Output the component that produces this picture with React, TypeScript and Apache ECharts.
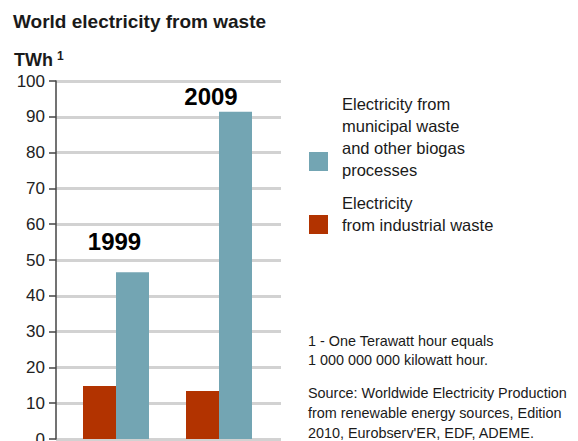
import React, { useEffect, useRef } from "react";
import * as echarts from "echarts";

const categories = ["1999", "2009"];
const industrialWaste = [14.8, 13.4];
const municipalWaste = [46.6, 91.4];
const yMin = 0;
const yMax = 100;
const yInterval = 10;

const titleText = "World electricity from waste";
const unitText = "TWh";
const legendMunicipal = "Electricity from\nmunicipal waste\nand other biogas\nprocesses";
const legendIndustrial = "Electricity\nfrom industrial waste";
const footnote1 = "1 - One Terawatt hour equals\n1 000 000 000 kilowatt hour.";
const footnote2 =
  "Source: Worldwide Electricity Production\nfrom renewable energy sources, Edition\n2010, Eurobserv'ER, EDF, ADEME.";

const RED = "#b23300";
const BLUE = "#73a5b3";
const FONT = "'Liberation Sans', Arial, Helvetica, sans-serif";
const TXT = "#1a1a1a";

export default function App() {
  const ref = useRef<HTMLDivElement>(null);
  useEffect(() => {
    if (!ref.current) return;
    const chart = echarts.init(ref.current, undefined, { renderer: "svg" });
    chart.setOption({
      animation: false,
      textStyle: { fontFamily: FONT },
      title: {
        text: titleText,
        left: 13,
        top: 12,
        padding: 0,
        textStyle: { fontSize: 19, fontWeight: "bold", color: TXT, fontFamily: FONT },
      },
      grid: [
        { left: 56, top: 81, width: 225, height: 358, containLabel: false, outerBoundsMode: "none" },
        { left: 64.5, top: 81, width: 206, height: 358, containLabel: false, outerBoundsMode: "none" },
      ],
      xAxis: [
        { gridIndex: 0, type: "category", data: categories, show: false },
        { gridIndex: 1, type: "category", data: categories, show: false },
      ],
      yAxis: [
        {
          gridIndex: 0,
          type: "value",
          min: yMin,
          max: yMax,
          interval: yInterval,
          axisLine: { show: true, lineStyle: { color: "#444", width: 1.5 } },
          axisTick: { show: true, length: 7, lineStyle: { color: "#444", width: 1.5 } },
          axisLabel: { margin: 11, fontSize: 17, color: "#222", fontFamily: FONT },
          splitLine: { show: true, lineStyle: { color: "#d2d2d2", width: 3 } },
        },
        { gridIndex: 1, type: "value", min: yMin, max: yMax, interval: yInterval, show: false },
      ],
      series: [
        {
          type: "bar",
          name: "Electricity from industrial waste",
          xAxisIndex: 1,
          yAxisIndex: 1,
          data: industrialWaste,
          barWidth: 33,
          barGap: "0%",
          itemStyle: { color: RED },
        },
        {
          type: "bar",
          name: "Electricity from municipal waste and other biogas processes",
          xAxisIndex: 1,
          yAxisIndex: 1,
          data: municipalWaste,
          barWidth: 33,
          barGap: "0%",
          itemStyle: { color: BLUE },
        },
      ],
      graphic: [
        {
          type: "text",
          left: 14,
          top: 51,
          style: { text: unitText, fontSize: 18, fontWeight: "bold", fill: TXT, fontFamily: FONT },
        },
        {
          type: "text",
          left: 57,
          top: 50,
          style: { text: "1", fontSize: 12, fontWeight: "bold", fill: TXT, fontFamily: FONT },
        },
        {
          type: "text",
          x: 114.5,
          y: 241,
          style: {
            text: categories[0],
            fontSize: 24,
            fontWeight: "bold",
            fill: "#000",
            fontFamily: FONT,
            align: "center",
            verticalAlign: "middle",
          },
        },
        {
          type: "text",
          x: 211,
          y: 96,
          style: {
            text: categories[1],
            fontSize: 24,
            fontWeight: "bold",
            fill: "#000",
            fontFamily: FONT,
            align: "center",
            verticalAlign: "middle",
          },
        },
        { type: "rect", shape: { x: 309, y: 152, width: 19, height: 19 }, style: { fill: BLUE } },
        { type: "rect", shape: { x: 309, y: 215, width: 19, height: 19 }, style: { fill: RED } },
        {
          type: "text",
          x: 342,
          y: 93,
          style: { text: legendMunicipal, fontSize: 16.5, lineHeight: 22, fill: TXT, fontFamily: FONT, verticalAlign: "top" },
        },
        {
          type: "text",
          x: 342,
          y: 192,
          style: { text: legendIndustrial, fontSize: 16.5, lineHeight: 22, fill: TXT, fontFamily: FONT, verticalAlign: "top" },
        },
        {
          type: "text",
          x: 308,
          y: 331,
          style: { text: footnote1, fontSize: 14.4, lineHeight: 19.5, fill: TXT, fontFamily: FONT, verticalAlign: "top" },
        },
        {
          type: "text",
          x: 308,
          y: 383,
          style: { text: footnote2, fontSize: 14.4, lineHeight: 20, fill: TXT, fontFamily: FONT, verticalAlign: "top" },
        },
      ],
    });
    return () => chart.dispose();
  }, []);
  return (
    <div
      ref={ref}
      style={{ position: "fixed", left: 0, top: 0, width: 578, height: 441, background: "#fff" }}
    />
  );
}
